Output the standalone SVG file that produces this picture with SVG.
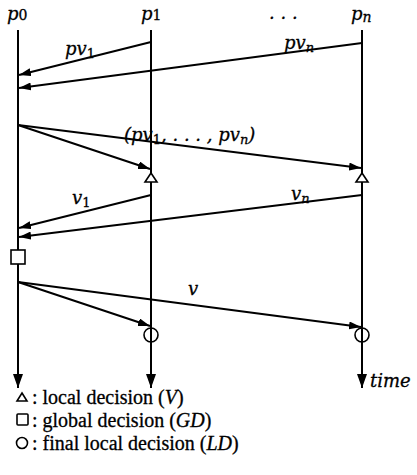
<svg xmlns="http://www.w3.org/2000/svg" width="417" height="475" viewBox="0 0 417 475">
<style>
.ln{stroke:#000;stroke-width:2;fill:none;marker-end:url(#dn)}
.msg{stroke:#000;stroke-width:2;fill:none;marker-end:url(#ah)}
.sym{stroke:#000;stroke-width:1.6;fill:#fff}
.m{font-family:"DejaVu Serif","Liberation Serif",serif;font-style:italic;font-size:18px;fill:#000;stroke:#000;stroke-width:0.3}
.t{font-family:"Liberation Serif","DejaVu Serif",serif;font-size:20px;fill:#000;stroke:#000;stroke-width:0.3}
</style>
<defs>
<marker id="ah" viewBox="0 0 12 8" refX="12" refY="4" markerWidth="12" markerHeight="8" markerUnits="userSpaceOnUse" orient="auto">
<path d="M0,0 L12,4 L0,8 z" fill="#000"/>
</marker>
<marker id="dn" viewBox="0 0 14 10" refX="14" refY="5" markerWidth="14" markerHeight="10" markerUnits="userSpaceOnUse" orient="auto">
<path d="M0,0 L14,5 L0,10 z" fill="#000"/>
</marker>
</defs>
<g id="p0">
<line class="ln" x1="18" y1="30" x2="18" y2="388"/>
<text class="m" x="7" y="20">p<tspan font-style="normal" font-size="14">0</tspan></text>
</g>
<g id="p1">
<line class="ln" x1="151" y1="30" x2="151" y2="388"/>
<text class="m" x="141" y="20">p<tspan font-style="normal" font-size="14">1</tspan></text>
</g>
<g id="pn">
<line class="ln" x1="362" y1="30" x2="362" y2="388"/>
<text class="m" x="351" y="20">p<tspan font-size="14" dy="2">n</tspan></text>
</g>
<text class="m" x="269" y="19" font-style="normal">. . .</text>
<g id="connectors">
<line class="msg" x1="151" y1="42" x2="19" y2="75"/>
<line class="msg" x1="362" y1="43" x2="19" y2="88"/>
<line class="msg" x1="18" y1="125" x2="150" y2="169"/>
<line class="msg" x1="18" y1="125" x2="361" y2="168"/>
<line class="msg" x1="151" y1="195" x2="19" y2="228"/>
<line class="msg" x1="362" y1="195" x2="19" y2="237"/>
<line class="msg" x1="18" y1="282" x2="150" y2="326"/>
<line class="msg" x1="18" y1="282" x2="361" y2="327"/>
</g>
<g id="labels">
<text class="m" x="65" y="55">pv<tspan font-style="normal" font-size="13" dy="3">1</tspan></text>
<text class="m" x="284" y="49">pv<tspan font-size="13" dy="3">n</tspan></text>
<text class="m" x="124" y="141">(pv<tspan font-style="normal" font-size="13" dy="3">1</tspan><tspan dy="-3">, . . . , pv</tspan><tspan font-size="13" dy="3">n</tspan><tspan dy="-3">)</tspan></text>
<text class="m" x="72" y="204">v<tspan font-style="normal" font-size="13" dy="3">1</tspan></text>
<text class="m" x="291" y="200">v<tspan font-size="13" dy="3">n</tspan></text>
<text class="m" x="188" y="295">v</text>
<text class="m" x="370" y="387">time</text>
</g>
<g id="local-decision-p1"><path class="sym" d="M151,173 L157,182 L145,182 z"/></g>
<g id="local-decision-pn"><path class="sym" d="M362,173 L368,182 L356,182 z"/></g>
<g id="global-decision"><rect class="sym" x="11" y="250" width="14" height="14"/></g>
<g id="final-p1"><circle class="sym" cx="151" cy="335" r="7" style="fill:none"/></g>
<g id="final-pn"><circle class="sym" cx="362" cy="335" r="7" style="fill:none"/></g>
<g id="legend">
<path class="sym" d="M22,393 L27,401 L17,401 z"/>
<text class="t" x="32" y="404">: local decision (<tspan font-style="italic">V</tspan>)</text>
<rect class="sym" x="17" y="414" width="11" height="11" rx="1"/>
<text class="t" x="32" y="427">: global decision (<tspan font-style="italic">GD</tspan>)</text>
<circle class="sym" cx="22" cy="443" r="5.5"/>
<text class="t" x="32" y="450">: final local decision (<tspan font-style="italic">LD</tspan>)</text>
</g>
</svg>
